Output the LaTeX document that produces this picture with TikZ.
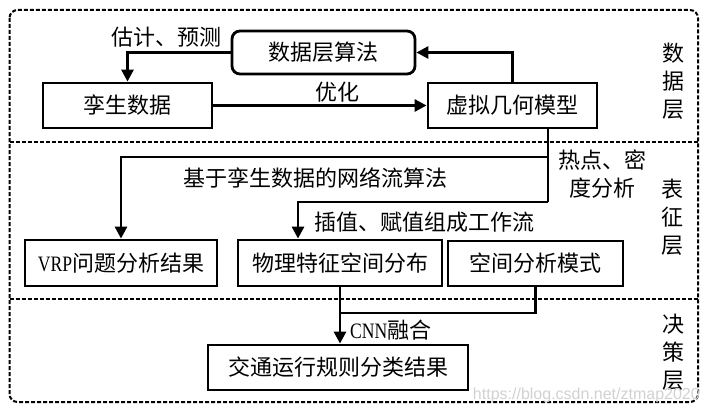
\documentclass[tikz,border=0pt]{standalone}
\usepackage{fontspec}
\setmainfont{Liberation Serif}
\newfontfamily\cjk{Noto Sans CJK SC}
\newfontfamily\latn[FakeStretch=0.8]{Liberation Serif}
\newfontfamily\wmfont{Liberation Sans}
\usetikzlibrary{arrows.meta,calc}
\begin{document}
\begin{tikzpicture}[x=1pt,y=-1pt,
  box/.style={draw,line width=2.8pt,minimum height=45pt,inner sep=0pt,font=\cjk\fontsize{22}{26}\selectfont},
  conn/.style={line width=2.8pt},
  arr/.style={conn,-{Triangle[length=12pt,width=12pt]}},
  frame/.style={line width=2pt,dash pattern=on 4pt off 2pt},
  lbl/.style={font=\cjk\fontsize{22}{28}\selectfont,inner sep=0pt},
  layer/.style={font=\cjk\fontsize{22}{28}\selectfont,align=center,inner sep=0pt}]
\useasboundingbox (0,0) rectangle (710,412);
% frame
\draw[frame,rounded corners=8pt] (9.5,10) rectangle (698,402);
\draw[frame] (9.5,142) -- (698,142);
\draw[frame] (9.5,299) -- (698,299);
% nodes
\node[box,minimum width=169pt] (twin) at (127.5,105.5) {孪生数据};
\node[box,rounded corners=8pt,minimum width=183pt,minimum height=43pt] (algo) at (323.5,52.5) {数据层算法};
\node[box,minimum width=169pt] (model) at (512.5,105.5) {虚拟几何模型};
\node[box,minimum width=192pt,minimum height=46pt] (vrp) at (121,263) {{\latn VRP}问题分析结果};
\node[box,minimum width=204pt,minimum height=46pt] (phys) at (340,263) {物理特征空间分布};
\node[box,minimum width=175pt,minimum height=45pt] (spat) at (535.5,263.5) {空间分析模式};
\node[box,minimum width=260pt] (res) at (338,367.5) {交通运行规则分类结果};
% connectors
\draw[arr] (algo.west) -| (twin.north);
\draw[arr] (model.north) |- (algo.east);
\draw[arr] (twin.east) -- (model.west);
\coordinate (b1) at (548,157);
\coordinate (b2) at (548,202);
\coordinate (b2l) at (298,202);
\draw[conn] (model.south -| b1) -- (b2);
\draw[arr] (b1) -| (vrp.north);
\draw[arr] (b2) -| (phys.north -| b2l);
\coordinate (j) at (340,313);
\draw[arr] (phys.south) -- (phys.south |- res.north);
\draw[conn] (spat.south) |- (j);
% labels
\node[lbl] (l1) at (166,37) {估计、预测};
\node[lbl] (l2) at (337,92) {优化};
\node[lbl] (l3) at (315,178) {基于孪生数据的网络流算法};
\node[lbl] (l4) at (424,222) {插值、赋值组成工作流};
\node[lbl,align=center] (l5) at (602,174) {热点、密\\度分析};
\node[lbl,anchor=west] (l6) at (350,330) {{\latn CNN}融合};
\node[layer] (L1) at (673,81) {数\\据\\层};
\node[layer] (L2) at (672,217) {表\\征\\层};
\node[layer] (L3) at (673,352) {决\\策\\层};
\node[font=\wmfont\fontsize{16}{16}\selectfont,text=black!18,anchor=east,inner sep=0pt] (wm) at (700,395) {https://blog.csdn.net/ztmap2020};
\end{tikzpicture}
\end{document}
